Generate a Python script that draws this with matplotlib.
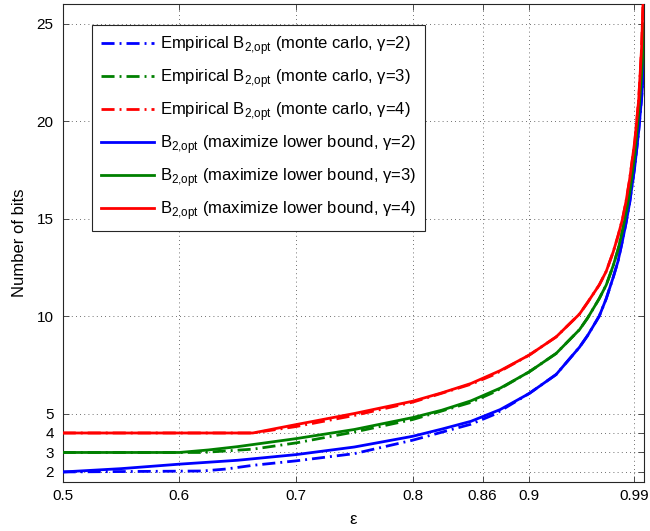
import matplotlib
matplotlib.use("Agg")
import matplotlib.pyplot as plt

plt.rcParams['font.family'] = ['Liberation Sans', 'DejaVu Sans']
plt.rcParams['mathtext.fontset'] = 'custom'
plt.rcParams['mathtext.rm'] = 'Liberation Sans'

# ---- data ----
x_xticks = [0.5, 0.6, 0.7, 0.8, 0.86, 0.9, 0.99]
x_xticklabels = ['0.5', '0.6', '0.7', '0.8', '0.86', '0.9', '0.99']
y_ticks = [2, 3, 4, 5, 10, 15, 20, 25]

# upper part (theory and empirical curves coincide there)
x_top = [0.90, 0.923, 0.943, 0.95, 0.96, 0.966, 0.972, 0.976, 0.98, 0.983,
         0.986, 0.9905, 0.9938, 0.9963, 0.9975, 0.9986]
y_top_g2 = [6.03, 7.0, 8.4, 9.0, 10.0, 10.9, 12.0, 12.8, 13.9, 14.8,
            15.8, 17.7, 19.5, 21.2, 22.2, 23.2]
y_top_g3 = [7.14, 8.08, 9.3, 9.9, 10.9, 11.6, 12.6, 13.4, 14.4, 15.3,
            16.3, 18.3, 20.4, 22.4, 23.6, 25.0]
y_top_g4 = [8.0, 8.93, 10.1, 10.7, 11.6, 12.3, 13.3, 14.1, 15.0, 15.9,
            17.0, 19.0, 21.1, 23.8, 26.0, 29.0]

# lower-bound optimised B_{2,opt}, lower part
x_g2 = [0.50, 0.55, 0.60, 0.65, 0.70, 0.75, 0.80, 0.825, 0.85, 0.875]
y_g2 = [2.00, 2.17, 2.40, 2.60, 2.89, 3.28, 3.83, 4.20, 4.60, 5.20]
x_g3 = [0.50, 0.60, 0.625, 0.65, 0.70, 0.75, 0.80, 0.825, 0.85, 0.875]
y_g3 = [3.00, 3.00, 3.13, 3.30, 3.71, 4.18, 4.79, 5.17, 5.65, 6.30]
x_g4 = [0.50, 0.663, 0.70, 0.75, 0.80, 0.825, 0.85, 0.875]
y_g4 = [4.00, 4.00, 4.43, 5.00, 5.63, 6.06, 6.54, 7.20]

# empirical (monte carlo) B_{2,opt}, lower part
xe_g2 = [0.50, 0.62, 0.64, 0.663, 0.70, 0.75, 0.80, 0.85, 0.87]
ye_g2 = [2.00, 2.05, 2.15, 2.34, 2.57, 2.94, 3.63, 4.45, 4.95]
xe_g3 = [0.50, 0.62, 0.663, 0.70, 0.75, 0.80, 0.85, 0.87]
ye_g3 = [3.00, 3.00, 3.17, 3.49, 4.05, 4.69, 5.57, 6.10]
xe_g4 = [0.50, 0.663, 0.70, 0.75, 0.80, 0.85, 0.87]
ye_g4 = [4.00, 4.00, 4.33, 4.90, 5.58, 6.50, 7.00]

labels_emp = [r'Empirical B$_{\mathregular{2{,}opt}}$ (monte carlo, γ=%d)' % g for g in (2, 3, 4)]
labels_th = [r'B$_{\mathregular{2{,}opt}}$ (maximize lower bound, γ=%d)' % g for g in (2, 3, 4)]
colors = ['#0000ff', '#008000', '#ff0000']

# ---- figure ----
fig = plt.figure(figsize=(6.5, 5.31), dpi=100)
ax = fig.add_axes([0.09646, 0.09284, 0.89477, 0.89906])

dash = (4.7, 1.8, 0.7, 1.8)
tops = [y_top_g2, y_top_g3, y_top_g4]
emp = [(xe_g2, ye_g2), (xe_g3, ye_g3), (xe_g4, ye_g4)]
th = [(x_g2, y_g2), (x_g3, y_g3), (x_g4, y_g4)]
handles = []
for (xx, yy), yt, c, lab in zip(emp, tops, colors, labels_emp):
    h, = ax.plot(list(xx) + x_top, list(yy) + yt, color=c, lw=2,
                 dashes=dash, label=lab, zorder=3)
    handles.append(h)
for (xx, yy), yt, c, lab in zip(th, tops, colors, labels_th):
    h, = ax.plot(list(xx) + x_top, list(yy) + yt, color=c, lw=2,
                 label=lab, zorder=4)
    handles.append(h)

ax.set_xlim(0.5, 0.9986)
ax.set_ylim(1.5, 26)
ax.set_xticks(x_xticks)
ax.set_xticklabels(x_xticklabels)
ax.set_yticks(y_ticks)

ax.grid(True, color='0.25', lw=0.6, dashes=(1, 4))
ax.set_axisbelow(True)
ax.tick_params(direction='in', length=4, width=0.6, top=True, right=True,
               labelsize=11, color='0.2')
ax.tick_params(axis='x', pad=5.5)
ax.tick_params(axis='y', pad=6.5)
for s in ax.spines.values():
    s.set_linewidth(0.8)
    s.set_color('0.15')

ax.set_xlabel('ε', fontsize=12, labelpad=6)
ax.set_ylabel('Number of bits', fontsize=12, labelpad=7)

leg = ax.legend(handles=handles, loc='upper left',
                bbox_to_anchor=(0.0499, 0.9566), borderaxespad=0,
                fontsize=12, handlelength=3.2, handletextpad=0.35,
                labelspacing=0.6, borderpad=0.55, fancybox=False,
                framealpha=1, edgecolor='0.15')
leg.get_frame().set_linewidth(0.8)

fig.savefig('out.png', dpi=100)
